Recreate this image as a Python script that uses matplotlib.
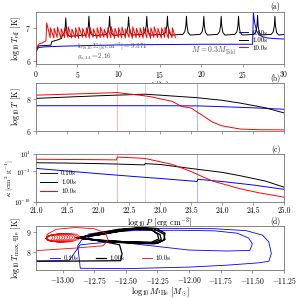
import numpy as np
import matplotlib
matplotlib.use('Agg')
import matplotlib.pyplot as plt

plt.rcParams['font.family'] = 'serif'
plt.rcParams['font.serif'] = ['cmr10', 'DejaVu Serif']
plt.rcParams['mathtext.fontset'] = 'cm'
plt.rcParams['axes.formatter.use_mathtext'] = True
plt.rcParams['font.size'] = 5.5
plt.rcParams['axes.linewidth'] = 0.6
plt.rcParams['axes.edgecolor'] = '0.45'
plt.rcParams['xtick.major.size'] = 2
plt.rcParams['ytick.major.size'] = 2
plt.rcParams['xtick.major.pad'] = 1.5
plt.rcParams['ytick.major.pad'] = 1.5
plt.rcParams['xtick.major.width'] = 0.5
plt.rcParams['ytick.major.width'] = 0.5
plt.rcParams['xtick.color'] = '0.45'
plt.rcParams['ytick.color'] = '0.45'
plt.rcParams['xtick.labelcolor'] = 'black'
plt.rcParams['ytick.labelcolor'] = 'black'

labels = ['0.10s', '1.00s', '10.0s']
colors = ['blue', 'black', 'red']

# ---- (a) effective temperature vs time
blue_t = [0, 0.05, 0.3, 1, 3, 6, 10, 15, 20, 24, 26.2, 26.3, 26.45, 26.7, 27.0, 27.5, 28, 29, 30]
blue_T = [5.9, 6.3, 6.4, 6.42, 6.44, 6.46, 6.48, 6.49, 6.5, 6.5, 6.5, 7.45, 7.15, 6.9, 6.78, 6.72, 6.69, 6.67, 6.66]

black_start_t = [0, 0.08, 0.3, 1.8, 1.9, 2.6, 3.1]
black_start_T = [5.9, 6.35, 6.45, 6.47, 6.58, 6.63, 6.68]
black_spike_t = [3.6, 6.4, 8.9, 11.2, 13.4, 15.9, 18.2, 20.3, 22.4, 24.5, 26.8, 28.9]
black_spike_T = [7.3, 7.35, 7.35, 7.33, 7.35, 7.35, 7.35, 7.35, 7.35, 7.35, 7.38, 7.35]
black_base_T = [6.72, 6.74, 6.75, 6.76, 6.76, 6.76, 6.76, 6.76, 6.76, 6.76, 6.76, 6.76]
black_end = (30, 6.8)

red_start_t = [0, 0.05, 0.3, 0.8, 1.2]
red_start_T = [5.9, 6.35, 6.5, 6.55, 6.6]
red_peak_t = [1.3, 1.75, 2.2, 2.6, 3.05, 3.5, 3.9, 4.35, 4.8, 5.2, 5.65, 6.1,
              6.5, 6.95, 7.4, 7.8, 8.25, 8.7, 9.1, 9.55, 10.0, 10.4, 10.85, 11.3,
              11.7, 12.15, 12.6, 13.0, 13.45, 13.9, 14.3, 14.75, 15.2, 15.6, 16.05, 16.5]
red_peak_T = [7.15, 7.0, 6.98, 7.02, 6.97, 7.0, 7.03, 6.96, 7.0, 7.02, 6.98, 7.0,
              7.03, 6.97, 7.0, 7.02, 6.96, 7.0, 7.03, 6.98, 7.0, 7.02, 6.97, 7.0,
              7.03, 6.98, 7.0, 7.02, 6.96, 7.0, 7.03, 6.98, 7.0, 7.02, 6.98, 7.0]
red_trough_T = [6.7, 6.69, 6.71, 6.68, 6.7, 6.71, 6.69, 6.7, 6.68, 6.71, 6.7, 6.69,
                6.71, 6.68, 6.7, 6.71, 6.69, 6.7, 6.68, 6.71, 6.7, 6.69, 6.71, 6.68,
                6.7, 6.71, 6.69, 6.7, 6.68, 6.71, 6.7, 6.69, 6.71, 6.68, 6.7, 6.7]
red_end_t = 16.9

# ---- (b), (c) profiles vs log10 P
P_blue = [21.0, 22.0, 22.8, 23.0, 23.6, 23.61, 24.0, 24.5, 25.0]
T_blue = [7.58, 7.58, 7.58, 7.58, 7.57, 7.57, 7.52, 7.45, 7.36]
k_blue = [-2.3, -3.5, -4.4, -4.6, -5.3, -4.8, -5.3, -6.1, -7.1]

P_black = [21.0, 21.5, 22.0, 22.3, 22.75, 22.76, 23.0, 23.6, 24.0, 24.3, 24.7, 25.0]
T_black = [8.04, 8.12, 8.2, 8.24, 8.3, 8.3, 8.24, 8.08, 7.92, 7.74, 7.45, 7.13]
k_black = [-1.0, -1.08, -1.2, -1.3, -1.5, -1.2, -1.4, -2.5, -3.2, -4.0, -5.2, -6.6]

P_red = [21.0, 21.5, 22.0, 22.3, 22.31, 22.75, 22.85, 23.2, 23.35, 23.5, 23.7, 23.85, 24.0, 24.3, 24.6, 25.0]
T_red = [8.24, 8.3, 8.36, 8.4, 8.4, 8.2, 8.14, 7.85, 7.53, 7.44, 6.93, 6.55, 6.32, 6.12, 6.08, 6.07]
k_red = [-0.2, -0.25, -0.3, -0.35, 0.3, 0.0, -0.3, -1.4, -2.2, -3.0, -4.3, -5.2, -5.8, -7.0, -7.9, -8.9]

vlines_P = [22.3, 22.75, 23.6]
vlines_c = ['red', '0.5', 'blue']

# ---- (d) max He temperature vs He mass
blue_M = [-13.21, -12.95, -12.86, -12.6, -12.3, -12.0, -11.7, -11.52, -11.5, -11.53, -11.62,
          -11.8, -12.1, -12.45, -12.7, -12.85, -12.88, -12.86, -12.5, -12.0, -11.7, -11.45,
          -11.37, -11.35, -11.37, -11.42, -11.55, -11.8, -12.2, -12.6, -12.8]
blue_Tmax = [7.52, 7.53, 8.35, 8.52, 8.3, 8.08, 8.03, 8.06, 8.4, 8.7, 8.95,
             9.07, 9.1, 9.08, 8.95, 8.6, 8.3, 7.14, 7.12, 7.2, 7.3, 7.42,
             7.5, 7.9, 8.5, 8.85, 9.08, 9.18, 9.2, 9.1, 8.9]

black_M = [-13.21, -12.9, -12.54, -12.53, -12.55, -12.7, -12.88,
           -12.75, -12.55, -12.4, -12.28, -12.2, -12.19, -12.25, -12.45, -12.7, -12.9,
           -12.72, -12.55, -12.42, -12.3, -12.23, -12.22, -12.28, -12.48, -12.7, -12.88,
           -12.74, -12.56, -12.38, -12.26, -12.19, -12.2, -12.27, -12.46, -12.68, -12.86,
           -12.7, -12.52, -12.4, -12.3, -12.25, -12.24, -12.3, -12.5, -12.72, -12.87]
black_Tmax = [7.5, 7.51, 7.53, 7.9, 8.35, 8.55, 8.7,
              8.9, 9.12, 9.22, 9.18, 8.9, 8.62, 8.42, 8.45, 8.55, 8.72,
              8.85, 9.05, 9.15, 9.12, 8.88, 8.62, 8.46, 8.5, 8.58, 8.7,
              8.92, 9.15, 9.23, 9.2, 8.95, 8.6, 8.4, 8.43, 8.52, 8.74,
              8.88, 9.08, 9.18, 9.15, 8.9, 8.65, 8.48, 8.5, 8.6, 8.72]

red_M = [-13.21, -12.9, -12.68, -12.64, -12.66, -12.75, -12.9, -13.05, -13.12, -13.13]
red_Tmax = [8.05, 8.18, 8.3, 8.6, 8.95, 9.18, 9.24, 9.15, 8.9, 8.7]
# small loops of the red track: right end and half height of each loop
red_loop_right = [-12.86, -12.88, -12.9, -12.92, -12.94, -12.96, -12.98, -13.0, -13.02, -13.04, -13.06, -13.08]
red_loop_half = [0.28, 0.27, 0.26, 0.25, 0.24, 0.23, 0.22, 0.21, 0.2, 0.19, 0.18, 0.17]
red_loop_left = (-13.13, 8.68)
loop_shape_x = [0, 0.12, 0.35, 0.65, 0.9, 1.0, 0.95, 0.75, 0.45, 0.15, 0]
loop_shape_y = [0, 0.55, 0.85, 0.95, 0.75, 0.3, -0.2, -0.6, -0.75, -0.5, 0]


def build_spikes(start_t, start_T, peak_t, peak_T, base_T, end):
    dt = [-0.45, -0.2, -0.07, 0, 0.07, 0.2, 0.45]
    t = list(start_t)
    T = list(start_T)
    for tp, pk, b in zip(peak_t, peak_T, base_T):
        shape = [b + 0.04, b + 0.12, b + 0.3, pk, b + 0.3, b + 0.1, b + 0.02]
        for d, v in zip(dt, shape):
            t.append(tp + d)
            T.append(v)
    t.append(end[0])
    T.append(end[1])
    return t, T


def build_saw(start_t, start_T, peak_t, peak_T, trough_T, end_t):
    t = list(start_t)
    T = list(start_T)
    nxt = peak_t[1:] + [end_t]
    for tp, pk, tr, tn in zip(peak_t, peak_T, trough_T, nxt):
        t += [tp, tn - 0.04]
        T += [pk, tr]
    return t, T


fig = plt.figure(figsize=(2.99, 2.98), dpi=100)
W, H = 299, 298


def add_ax(l, t, r, b):
    return fig.add_axes([l / W, 1 - b / H, (r - l) / W, (b - t) / H])


ax_a = add_ax(36, 12, 284, 64)
ax_b = add_ax(36, 83, 284, 131)
ax_c = add_ax(36, 154, 284, 202)
ax_d = add_ax(36, 226, 284, 270)

lab_fs = 6.0

# (a)
lw = 0.7
bt, bT = build_spikes(black_start_t, black_start_T, black_spike_t, black_spike_T, black_base_T, black_end)
rt, rT = build_saw(red_start_t, red_start_T, red_peak_t, red_peak_T, red_trough_T, red_end_t)
la1, = ax_a.plot(blue_t, blue_T, color='blue', lw=lw)
la2, = ax_a.plot(bt, bT, color='black', lw=lw)
la3, = ax_a.plot(rt, rT, color='red', lw=lw)
ax_a.set_xlim(0, 30)
ax_a.set_ylim(5.9, 7.48)
ax_a.set_yticks([6, 7])
ax_a.set_xticks([0, 5, 10, 15, 20, 25, 30])
ax_a.set_xlabel(r'$t$ [hr]', fontsize=lab_fs, labelpad=0)
ax_a.set_ylabel(r'$\log_{10}T_{\rm eff}$ [K]', fontsize=lab_fs, labelpad=2)
ax_a.text(5.0, 6.45, r'$\log_{10}\Sigma\,[{\rm g\,cm^{-2}}] = 9.371$', fontsize=5, va='center', color='0.3')
ax_a.text(5.0, 6.12, r'$g_{s,14} = 2.16$', fontsize=5, va='center', color='0.3')
ax_a.text(18.8, 6.3, r'$\dot M = 0.3\dot M_{\rm Edd}$', fontsize=5.5, va='center', color='0.3')
ax_a.legend([la1, la2, la3], labels, loc='upper left', bbox_to_anchor=(0.8, 0.74),
            frameon=False, fontsize=5, handlelength=1.4, handletextpad=0.6, labelspacing=0.25,
            borderpad=0.1)
ax_a.text(0.985, 1.02, '(a)', transform=ax_a.transAxes, ha='right', va='bottom', fontsize=5.5)

# (b)
for P, T, c in zip([P_blue, P_black, P_red], [T_blue, T_black, T_red], colors):
    ax_b.plot(P, T, color=c, lw=lw)
for x, c in zip(vlines_P, vlines_c):
    ax_b.axvline(x, color=c, lw=0.6, alpha=0.35)
    ax_c.axvline(x, color=c, lw=0.6, alpha=0.35)
ax_b.set_xlim(21, 25)
ax_b.set_ylim(6, 9)
ax_b.set_yticks([6, 8])
ax_b.set_xticks(np.arange(21, 25.01, 0.5))
ax_b.set_xticklabels([])
ax_b.set_ylabel(r'$\log_{10}T$ [K]', fontsize=lab_fs, labelpad=2)
ax_b.text(0.985, 1.0, '(b)', transform=ax_b.transAxes, ha='right', va='bottom', fontsize=5.5)

# (c)
lc = []
for P, k, c in zip([P_blue, P_black, P_red], [k_blue, k_black, k_red], colors):
    l, = ax_c.plot(P, 10.0 ** np.array(k), color=c, lw=lw)
    lc.append(l)
ax_c.set_yscale('log')
ax_c.set_xlim(21, 25)
ax_c.set_ylim(1e-10, 1e1)
ax_c.set_yticks([1e-10, 1e-3, 1e1])
ax_c.minorticks_off()
ax_c.tick_params(axis='y', labelsize=4.8)
ax_c.set_xticks(np.arange(21, 25.01, 0.5))
ax_c.set_xticklabels(['%.1f' % v for v in np.arange(21, 25.01, 0.5)])
ax_c.set_xlabel(r'$\log_{10}P$ [erg cm$^{-3}$]', fontsize=lab_fs, labelpad=0.5)
ax_c.set_ylabel(r'$\kappa$ [cm$^2$ g$^{-1}$]', fontsize=5.3)
ax_c.yaxis.set_label_coords(-0.085, 0.5)
ax_c.legend(lc, labels, loc='lower left', bbox_to_anchor=(0.0, 0.08), frameon=False,
            fontsize=5, handlelength=2.4, handletextpad=0.6, labelspacing=0.45, borderpad=0.1)
ax_c.text(0.985, 1.0, '(c)', transform=ax_c.transAxes, ha='right', va='bottom', fontsize=5.5)

# (d)
ld1, = ax_d.plot(blue_M, blue_Tmax, color='blue', lw=0.6)
ld2, = ax_d.plot(black_M, black_Tmax, color='black', lw=0.9)
ld3, = ax_d.plot(red_M, red_Tmax, color='red', lw=0.6)
x0, y0 = red_loop_left
for xr, hh in zip(red_loop_right, red_loop_half):
    w = xr - x0
    ax_d.plot([x0 + w * s for s in loop_shape_x], [y0 + hh * s for s in loop_shape_y],
              color='red', lw=0.5)
ax_d.set_xlim(-13.21, -11.25)
ax_d.set_ylim(7.05, 9.32)
ax_d.set_yticks([8, 9])
ax_d.set_xticks([-13.0, -12.75, -12.5, -12.25, -12.0, -11.75, -11.5, -11.25])
ax_d.set_xticklabels([r'$-%.2f$' % abs(v) for v in [-13.0, -12.75, -12.5, -12.25, -12.0, -11.75, -11.5, -11.25]])
ax_d.set_xlabel(r'$\log_{10}M_{\rm ^4He}$ [$M_{\odot}$]', fontsize=lab_fs, labelpad=0)
ax_d.set_ylabel(r'$\log_{10}T_{\rm max,^4He}$ [K]', fontsize=lab_fs, labelpad=2)
ax_d.legend([ld1, ld2, ld3], labels, loc='lower left', bbox_to_anchor=(0.04, 0.1), ncol=3,
            frameon=False, fontsize=5, handlelength=1.4, handletextpad=0.5, columnspacing=2.6,
            borderpad=0.1)
ax_d.text(0.985, 1.0, '(d)', transform=ax_d.transAxes, ha='right', va='bottom', fontsize=5.5)

fig.savefig('out.png', dpi=100)
